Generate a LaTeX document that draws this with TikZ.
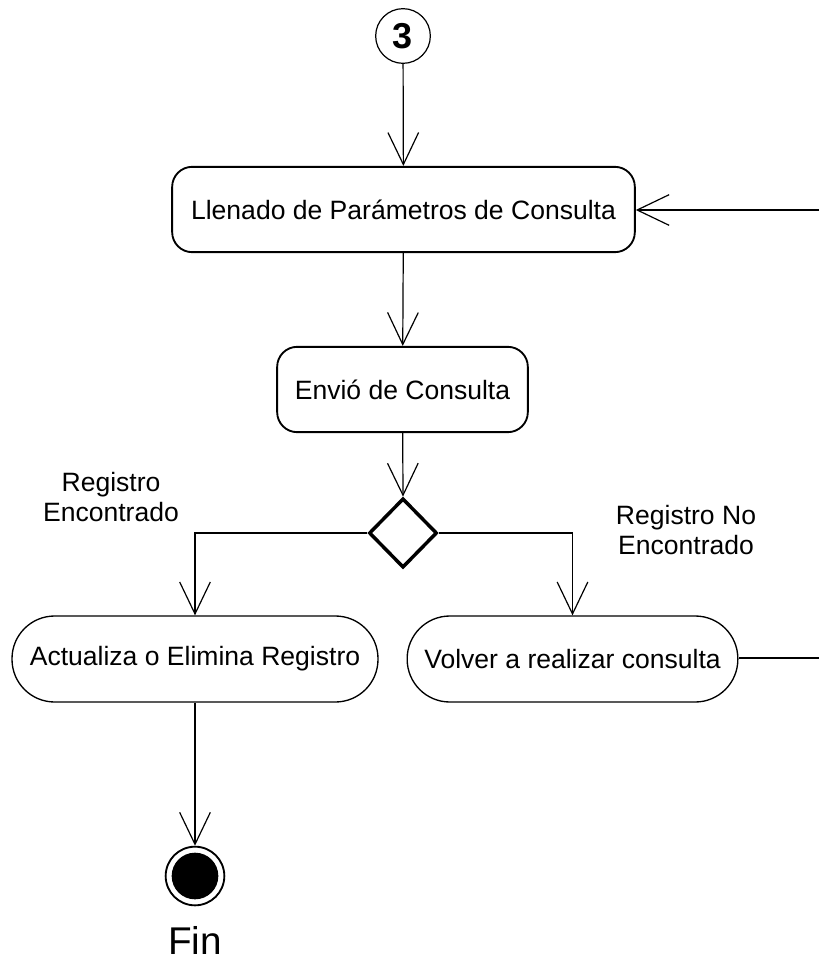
\documentclass[tikz,border=0pt]{standalone}
\usepackage{fontspec}
\setmainfont{Liberation Sans}
\usetikzlibrary{shapes.geometric,arrows.meta}
\begin{document}
\begin{tikzpicture}[x=0.75pt,y=-0.75pt,
  txt/.style={font=\fontsize{19.9}{23}\selectfont},
  act/.style={draw,line width=1.4pt,rectangle,inner sep=0pt,txt},
  conn/.style={line width=0.9pt,-{Straight Barb[length=24pt,width=23pt,line width=0.9pt]}},
  plain/.style={line width=0.9pt}]
\useasboundingbox (0,0) rectangle (819,963);
\node[circle,draw,line width=0.9pt,minimum size=41pt,inner sep=0pt,font=\fontsize{27}{30}\selectfont\bfseries] (c3) at (403,36) {3};
\node[act,rounded corners=15pt,minimum width=347pt,minimum height=64pt] (llen) at (403.5,209.5) {Llenado de Parámetros de Consulta};
\node[act,rounded corners=15pt,minimum width=188pt,minimum height=64pt] (env) at (402.5,389.5) {Envió de Consulta};
\node[diamond,draw,line width=2.6pt,minimum width=51pt,minimum height=52pt,inner sep=0pt] (dec) at (403,533) {};
\node[act,line width=1pt,rounded corners=32pt,minimum width=274.5pt,minimum height=64.5pt] (actu) at (195,659) {Actualiza o Elimina Registro};
\node[act,line width=1pt,rounded corners=32pt,minimum width=248pt,minimum height=64.5pt] (volv) at (572.5,659) {Volver a realizar consulta};
\node[circle,draw,line width=1.4pt,minimum size=44pt,inner sep=0pt] (fin) at (195,876) {};
\node[circle,fill=black,minimum size=35pt,inner sep=0pt] (fini) at (195,876) {};
\node[font=\fontsize{29}{32}\selectfont] (fint) at (195,940) {Fin};
\node[txt,align=center] (lbl1) at (111,497) {Registro\\Encontrado};
\node[txt,align=center] (lbl2) at (686,530) {Registro No\\Encontrado};
\coordinate (rin) at (819,210);
\coordinate (rout) at (819,658);
\draw[conn] (c3) -- (llen);
\draw[conn] (llen) -- (env);
\draw[conn] (env) -- (dec.north);
\draw[conn] (dec.west) -| (actu.north);
\draw[conn] (dec.east) -| (volv.north);
\draw[conn] (actu) -- (fin);
\draw[conn] (rin) -- (llen.east |- rin);
\draw[plain] (volv.east |- rout) -- (rout);
\end{tikzpicture}
\end{document}
